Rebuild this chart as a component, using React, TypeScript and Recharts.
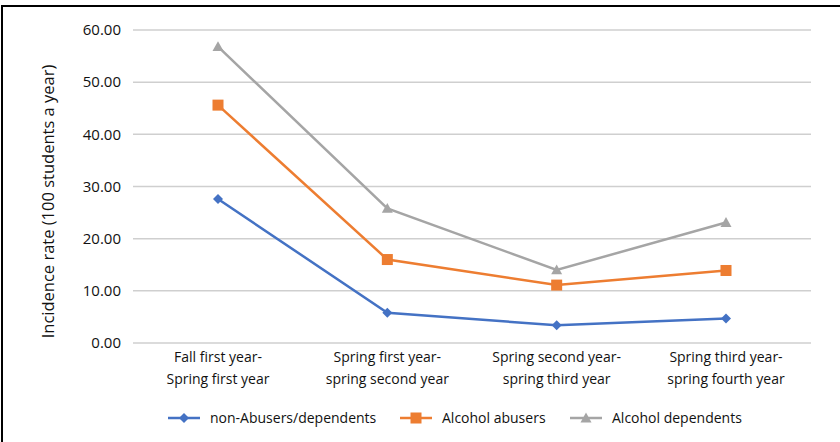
import React from "react";
import {
  LineChart,
  Line,
  XAxis,
  YAxis,
  CartesianGrid,
  Label,
} from "recharts";

const categories = [
  "Fall first year-\nSpring first year",
  "Spring first year-\nspring second year",
  "Spring second year-\nspring third year",
  "Spring third year-\nspring fourth year",
];

const nonAbusers = [27.6, 5.8, 3.4, 4.7];
const alcoholAbusers = [45.6, 16.0, 11.1, 13.9];
const alcoholDependents = [56.8, 25.8, 14.0, 23.1];

const yTicks = [0, 10, 20, 30, 40, 50, 60];

const series = [
  { key: "nonAbusers", name: "non-Abusers/dependents", color: "#4472C4", shape: "diamond" },
  { key: "alcoholAbusers", name: "Alcohol abusers", color: "#ED7D31", shape: "square" },
  { key: "alcoholDependents", name: "Alcohol dependents", color: "#A5A5A5", shape: "triangle" },
];

const data = categories.map((c, i) => ({
  category: c,
  nonAbusers: nonAbusers[i],
  alcoholAbusers: alcoholAbusers[i],
  alcoholDependents: alcoholDependents[i],
}));

const FONT = "'Open Sans', 'Noto Sans', sans-serif";

const Marker = ({ shape, color, cx, cy }: any) => {
  if (cx == null || cy == null) return null;
  if (shape === "diamond") {
    const r = 5;
    return (
      <path
        d={`M${cx},${cy - r} L${cx + r},${cy} L${cx},${cy + r} L${cx - r},${cy} Z`}
        fill={color}
      />
    );
  }
  if (shape === "square") {
    const r = 5.5;
    return <rect x={cx - r} y={cy - r} width={r * 2} height={r * 2} fill={color} />;
  }
  const r = 5.5;
  return (
    <path
      d={`M${cx},${cy - r} L${cx + r},${cy + r * 0.8} L${cx - r},${cy + r * 0.8} Z`}
      fill={color}
    />
  );
};

const XTick = ({ x, y, payload }: any) => {
  const lines = String(payload.value).split("\n");
  return (
    <text x={x} y={y} textAnchor="middle" fill="#111" fontSize={14} fontFamily={FONT}>
      {lines.map((l, i) => (
        <tspan key={i} x={x} dy={i === 0 ? 7 : 22}>
          {l}
        </tspan>
      ))}
    </text>
  );
};

const YLabel = ({ viewBox }: any) => {
  const cx = 47;
  const cy = viewBox.y + viewBox.height / 2 + 15;
  return (
    <text
      x={cx}
      y={cy}
      transform={`rotate(-90, ${cx}, ${cy})`}
      textAnchor="middle"
      dominantBaseline="central"
      fill="#111"
      fontSize={16.5}
      fontFamily={FONT}
    >
      Incidence rate (100 students a year)
    </text>
  );
};

const legendX = [168, 400, 570];

const ChartLegend = () => (
  <svg width={840} height={30} style={{ position: "absolute", left: 0, top: 403 }}>
    {series.map((s, i) => (
      <g key={s.key}>
        <line x1={legendX[i]} x2={legendX[i] + 32} y1={15} y2={15} stroke={s.color} strokeWidth={2.5} />
        <Marker shape={s.shape} color={s.color} cx={legendX[i] + 16} cy={15} />
        <text x={legendX[i] + 42} y={20} fontSize={14} fontFamily={FONT} fill="#111">
          {s.name}
        </text>
      </g>
    ))}
  </svg>
);

export default function App() {
  return (
    <div
      style={{
        position: "absolute",
        left: 0,
        top: 0,
        width: 840,
        height: 442,
        background: "#fff",
        overflow: "hidden",
      }}
    >
      <div
        style={{
          position: "absolute",
          left: 1,
          top: 5,
          width: 845,
          height: 445,
          borderLeft: "2px solid #000",
          borderTop: "2px solid #000",
        }}
      />
      <div style={{ position: "absolute", left: 0, top: 0 }}>
        <LineChart
          width={840}
          height={442}
          data={data}
          margin={{ top: 30, right: 29, bottom: 39, left: 0 }}
        >
          <CartesianGrid vertical={false} stroke="#cfcfcf" strokeWidth={1.5} />
          <XAxis
            dataKey="category"
            axisLine={false}
            tickLine={false}
            interval={0}
            height={60}
            padding={{ left: 85, right: 85 }}
            tick={<XTick />}
            tickMargin={6}
          />
          <YAxis
            domain={[0, 60]}
            ticks={yTicks}
            width={133}
            axisLine={false}
            tickLine={false}
            tickMargin={6}
            tickFormatter={(v: number) => v.toFixed(2)}
            tick={{ fill: "#111", fontSize: 15, fontFamily: FONT }}
          >
            <Label content={<YLabel />} />
          </YAxis>
          {series.map((s) => (
            <Line
              key={s.key}
              dataKey={s.key}
              name={s.name}
              stroke={s.color}
              strokeWidth={2.5}
              isAnimationActive={false}
              dot={(p: any) => <Marker key={p.index} shape={s.shape} color={s.color} cx={p.cx} cy={p.cy} />}
              activeDot={false}
            />
          ))}
        </LineChart>
      </div>
      <ChartLegend />
    </div>
  );
}
